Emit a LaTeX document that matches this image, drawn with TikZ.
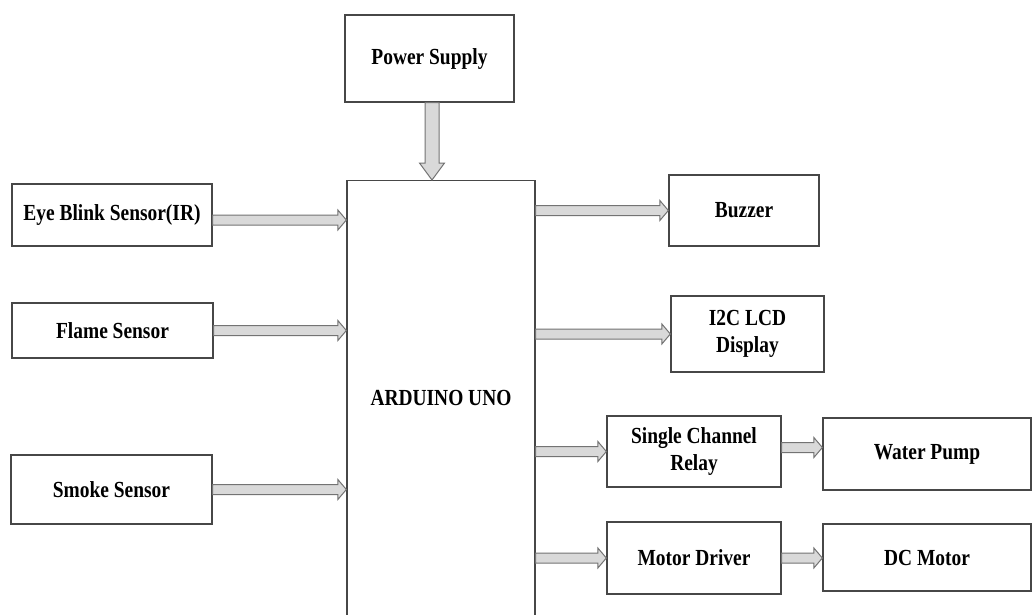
\documentclass[tikz,border=0pt]{standalone}
\usepackage{fontspec}
\usepackage{tikz}
\usetikzlibrary{calc}
\newfontfamily\blockfont[FakeStretch=0.845]{Liberation Serif}

\begin{document}
\begin{tikzpicture}[
  x=1pt, y=-1pt,
  block/.style={draw=black!72, line width=1.3pt, align=center, inner sep=2pt,
    font=\blockfont\bfseries\fontsize{23}{27.5}\selectfont},
  hflow/.style={draw=black!55, fill=gray!30, line width=1pt,
    to path={let \p1=(\tikztostart), \p2=(\tikztotarget) in
      (\x1,\y1+5pt) -- (\x2-8.5pt,\y1+5pt) -- (\x2-8.5pt,\y1+10pt) -- (\x2,\y1)
      -- (\x2-8.5pt,\y1-10pt) -- (\x2-8.5pt,\y1-5pt) -- (\x1,\y1-5pt) -- cycle}},
  vflow/.style={draw=black!55, fill=gray!30, line width=1pt,
    to path={let \p1=(\tikztostart), \p2=(\tikztotarget) in
      (\x1-7pt,\y1) -- (\x1-7pt,\y2+17pt) -- (\x1-12.5pt,\y2+17pt) -- (\x1,\y2)
      -- (\x1+12.5pt,\y2+17pt) -- (\x1+7pt,\y2+17pt) -- (\x1+7pt,\y1) -- cycle}},
]
\clip (0,0) rectangle (1033,614);
\fill[white] (0,0) rectangle (1033,614);

% controller
\node[block, minimum width=188, minimum height=480, anchor=north] (uno) at (441,180) {};
\node[block, draw=none] (unotext) at (441,398) {ARDUINO UNO};

\node[block, minimum width=169, minimum height=87] (power) at (429.5,58.5) {Power Supply};

% inputs
\node[block, minimum width=200, minimum height=62] (eye) at (112,215) {Eye Blink Sensor(IR)};
\node[block, minimum width=201, minimum height=55] (flame) at (112.5,330.5) {Flame Sensor};
\node[block, minimum width=201, minimum height=69] (smoke) at (111.5,489.5) {Smoke Sensor};

% outputs
\node[block, minimum width=150, minimum height=71] (buzzer) at (744,210.5) {Buzzer};
\node[block, minimum width=153, minimum height=76] (lcd) at (747.5,334) {I2C LCD\\Display};
\node[block, minimum width=174, minimum height=71] (relay) at (694,451.5) {Single Channel\\Relay};
\node[block, minimum width=208, minimum height=72] (pump) at (927,454) {Water Pump};
\node[block, minimum width=174, minimum height=72] (driver) at (694,558) {Motor Driver};
\node[block, minimum width=208, minimum height=67] (dcmotor) at (927,557.5) {DC Motor};

\draw[vflow] ([xshift=2.5pt]power.south) to ([xshift=2.5pt]power.south |- uno.north);

\draw[hflow] ([yshift=-5pt]eye.east) to (uno.west);
\draw[hflow] (flame.east) to (uno.west);
\draw[hflow] (smoke.east) to (uno.west);

\draw[hflow] (uno.east |- buzzer.west) to (buzzer.west);
\draw[hflow] (uno.east |- lcd.west) to (lcd.west);
\draw[hflow] (uno.east |- relay.west) to (relay.west);
\draw[hflow] (uno.east |- driver.west) to (driver.west);
\draw[hflow] ([yshift=4pt]relay.east) to (pump.west);
\draw[hflow] (driver.east) to (dcmotor.west);
\end{tikzpicture}
\end{document}
